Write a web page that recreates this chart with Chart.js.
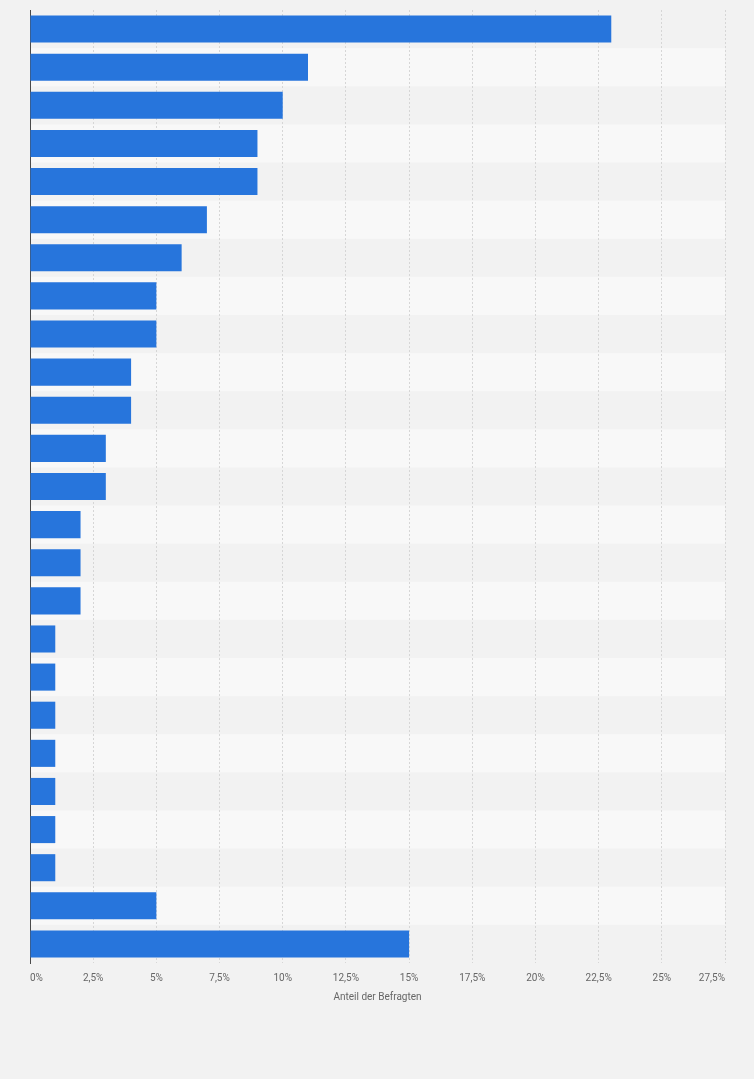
<!DOCTYPE html>
<html>
<head>
<meta charset="utf-8">
<script src="https://cdn.jsdelivr.net/npm/chart.js"></script>
<style>
  html, body { margin: 0; padding: 0; background: #f2f2f2; }
  #wrap { width: 754px; height: 1079px; position: relative; }
</style>
</head>
<body>
<div id="wrap"><canvas id="chart"></canvas></div>
<script>
// answer categories (not labelled in the source graphic)
const categories = [
  'Antwort 1', 'Antwort 2', 'Antwort 3', 'Antwort 4', 'Antwort 5',
  'Antwort 6', 'Antwort 7', 'Antwort 8', 'Antwort 9', 'Antwort 10',
  'Antwort 11', 'Antwort 12', 'Antwort 13', 'Antwort 14', 'Antwort 15',
  'Antwort 16', 'Antwort 17', 'Antwort 18', 'Antwort 19', 'Antwort 20',
  'Antwort 21', 'Antwort 22', 'Antwort 23', 'Antwort 24', 'Antwort 25'
];
const shares = [23, 11, 10, 9, 9, 7, 6, 5, 5, 4, 4, 3, 3, 2, 2, 2, 1, 1, 1, 1, 1, 1, 1, 5, 15];
const xTicks = [0, 2.5, 5, 7.5, 10, 12.5, 15, 17.5, 20, 22.5, 25, 27.5];
const axisTitle = 'Anteil der Befragten';

// light stripes behind every second row
const rowBands = {
  id: 'rowBands',
  beforeDraw(chart) {
    const { ctx, chartArea, scales } = chart;
    const y = scales.y;
    const step = (chartArea.bottom - chartArea.top) / categories.length;
    ctx.save();
    ctx.fillStyle = '#f8f8f8';
    categories.forEach((c, i) => {
      if (i % 2 === 1) {
        const cy = y.getPixelForValue(i);
        ctx.fillRect(chartArea.left, cy - step / 2, chartArea.right - chartArea.left, step);
      }
    });
    ctx.restore();
  }
};

new Chart(document.getElementById('chart'), {
  type: 'bar',
  data: {
    labels: categories,
    datasets: [{
      data: shares,
      backgroundColor: '#2775dc',
      borderWidth: 0,
      barPercentage: 0.71,
      categoryPercentage: 1
    }]
  },
  options: {
    indexAxis: 'y',
    responsive: true,
    maintainAspectRatio: false,
    animation: false,
    layout: { padding: { left: 30, right: 29, top: 10, bottom: 76 } },
    plugins: {
      legend: { display: false },
      tooltip: { enabled: false }
    },
    scales: {
      x: {
        min: 0,
        max: 27.5,
        afterBuildTicks(scale) {
          scale.ticks = xTicks.map(v => ({ value: v }));
        },
        ticks: {
          align: 'inner',
          color: '#666',
          padding: 9,
          font: { family: 'Roboto', size: 10 },
          callback: v => String(v).replace('.', ',') + '%'
        },
        grid: { color: '#d6d6d6', drawTicks: false, lineWidth: 1 },
        border: { display: false, dash: [2, 2] },
        title: {
          display: true,
          text: axisTitle,
          color: '#666',
          font: { family: 'Roboto', size: 10 },
          padding: { top: -2, bottom: 0 }
        }
      },
      y: {
        ticks: { display: false },
        grid: { display: false },
        border: { display: true, color: '#4a4a4a', width: 1 },
        afterFit(scale) { scale.width = 0; }
      }
    }
  },
  plugins: [rowBands]
});
</script>
</body>
</html>
